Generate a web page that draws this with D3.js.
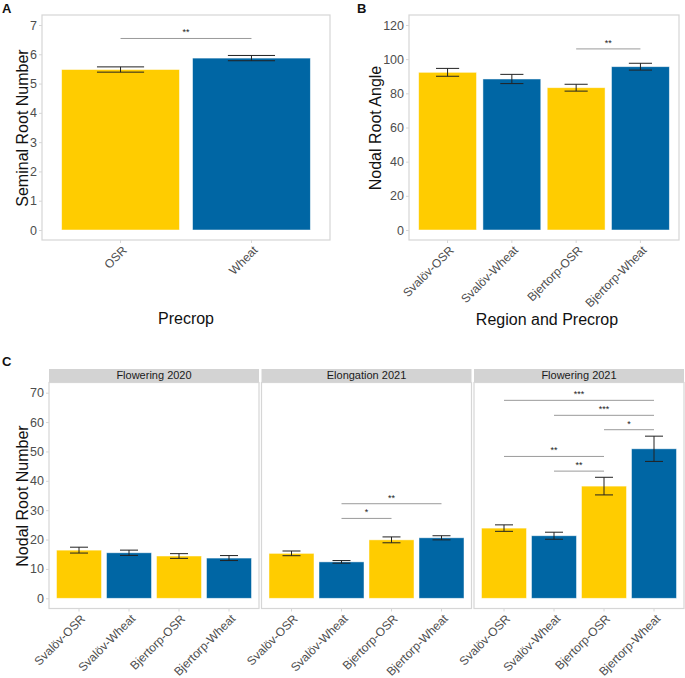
<!DOCTYPE html>
<html>
<head>
<meta charset="utf-8">
<script src="https://cdn.jsdelivr.net/npm/d3@7"></script>
<style>
  body { margin: 0; background: #fff; }
  svg { font-family: "Liberation Sans", Arial, sans-serif; }
</style>
</head>
<body>
<div id="chart"></div>
<script>
// data (mean and standard error)
const precrops = ["OSR", "Wheat"];
const seminalMean = [5.48, 5.87];
const seminalSE = [0.09, 0.09];
const seminalSig = [{ a: "OSR", b: "Wheat", y: 6.54, label: "**" }];

const sites = ["Svalöv-OSR", "Svalöv-Wheat", "Bjertorp-OSR", "Bjertorp-Wheat"];
const angleMean = [92.3, 88.4, 83.3, 95.6];
const angleSE = [2.3, 2.7, 2.0, 2.0];
const angleSig = [{ a: "Bjertorp-OSR", b: "Bjertorp-Wheat", y: 106, label: "**" }];

const stages = ["Flowering 2020", "Elongation 2021", "Flowering 2021"];
const nodalMean = [
  [16.4, 15.5, 14.4, 13.7],
  [15.3, 12.4, 19.9, 20.6],
  [23.9, 21.3, 38.2, 50.9]
];
const nodalSE = [
  [1.0, 0.9, 0.8, 0.85],
  [0.8, 0.45, 1.0, 0.7],
  [1.1, 1.2, 3.0, 4.3]
];
const nodalSig = [
  [],
  [{ a: "Svalöv-Wheat", b: "Bjertorp-OSR", y: 27.2, label: "*" },
   { a: "Svalöv-Wheat", b: "Bjertorp-Wheat", y: 32.2, label: "**" }],
  [{ a: "Svalöv-OSR", b: "Bjertorp-Wheat", y: 67.4, label: "***" },
   { a: "Svalöv-Wheat", b: "Bjertorp-Wheat", y: 62.3, label: "***" },
   { a: "Bjertorp-OSR", b: "Bjertorp-Wheat", y: 57.4, label: "*" },
   { a: "Svalöv-OSR", b: "Bjertorp-OSR", y: 48.3, label: "**" },
   { a: "Svalöv-Wheat", b: "Bjertorp-OSR", y: 43.3, label: "**" }]
];

const yellow = "#FFCC00", blue = "#0066A4";
const tickGrey = "#4d4d4d", frame = "#d6d6d6";

const width = 685, height = 678;
const svg = d3.select("#chart").append("svg")
  .attr("width", width).attr("height", height);

// draws one ggplot-like panel
function panel(opt) {
  const { x0, x1, y0, y1, cats, means, ses, sig, ymax, yticks, yzero, ytop, showY } = opt;
  const x = d3.scaleBand().domain(cats).range([x0, x1])
    .paddingInner(0.1).paddingOuter(0.15);
  const y = d3.scaleLinear().domain([0, ymax]).range([yzero, ytop]);
  const g = svg.append("g");
  const rows = cats.map((c, i) => ({ c, m: means[i], se: ses[i], i }));

  g.append("rect").attr("x", x0).attr("y", y0).attr("width", x1 - x0).attr("height", y1 - y0)
    .attr("fill", "#fff").attr("stroke", frame).attr("stroke-width", 1.2);

  g.selectAll(".bar").data(rows).enter().append("rect")
    .attr("x", d => x(d.c)).attr("width", x.bandwidth())
    .attr("y", d => y(d.m)).attr("height", d => y(0) - y(d.m))
    .attr("fill", d => d.i % 2 ? blue : yellow)
    .attr("stroke", "#fff").attr("stroke-opacity", 0.6).attr("stroke-width", 0.8);

  const cap = x.bandwidth() * 0.2;
  const eb = g.selectAll(".eb").data(rows).enter().append("g")
    .attr("stroke", "#222").attr("stroke-width", 1);
  eb.append("line").attr("x1", d => x(d.c) + x.bandwidth() / 2).attr("x2", d => x(d.c) + x.bandwidth() / 2)
    .attr("y1", d => y(d.m + d.se)).attr("y2", d => y(d.m - d.se));
  eb.append("line").attr("x1", d => x(d.c) + x.bandwidth() / 2 - cap).attr("x2", d => x(d.c) + x.bandwidth() / 2 + cap)
    .attr("y1", d => y(d.m + d.se)).attr("y2", d => y(d.m + d.se));
  eb.append("line").attr("x1", d => x(d.c) + x.bandwidth() / 2 - cap).attr("x2", d => x(d.c) + x.bandwidth() / 2 + cap)
    .attr("y1", d => y(d.m - d.se)).attr("y2", d => y(d.m - d.se));

  sig.forEach(s => {
    const xa = x(s.a) + x.bandwidth() / 2, xb = x(s.b) + x.bandwidth() / 2;
    g.append("line").attr("x1", xa).attr("x2", xb).attr("y1", y(s.y)).attr("y2", y(s.y))
      .attr("stroke", "#9a9a9a").attr("stroke-width", 1);
    g.append("text").attr("x", (xa + xb) / 2).attr("y", y(s.y) - 3)
      .attr("text-anchor", "middle").attr("font-size", 9).attr("fill", "#222").text(s.label);
  });

  if (showY) {
    const ya = g.append("g").attr("transform", `translate(${x0},0)`)
      .call(d3.axisLeft(y).tickValues(yticks).tickFormat(d3.format("d")).tickSize(3).tickPadding(2));
    ya.select(".domain").remove();
    ya.selectAll("line").attr("stroke", frame);
    ya.selectAll("text").attr("fill", tickGrey).attr("font-size", 12.5).attr("font-family", null);
  }

  const xa = g.append("g").attr("transform", `translate(0,${y1})`)
    .call(d3.axisBottom(x).tickSize(3).tickFormat(""));
  xa.select(".domain").remove();
  xa.selectAll("line").attr("stroke", frame);
  g.selectAll(".xl").data(cats).enter().append("text")
    .attr("transform", d => `translate(${x(d) + x.bandwidth() / 2 + 7},${y1 + 11}) rotate(-45)`)
    .attr("text-anchor", "end")
    .attr("font-size", 12).attr("fill", tickGrey).text(d => d);
}

function title(txt, xx, yy, rot) {
  svg.append("text").attr("transform", `translate(${xx},${yy})` + (rot ? " rotate(-90)" : ""))
    .attr("text-anchor", "middle").attr("dominant-baseline", "middle")
    .attr("font-size", 16).attr("fill", "#111").text(txt);
}
function tag(txt, xx, yy) {
  svg.append("text").attr("x", xx).attr("y", yy).attr("font-size", 13)
    .attr("font-weight", "bold").attr("fill", "#111").text(txt);
}

// A
panel({ x0: 42, x1: 330, y0: 15, y1: 240, cats: precrops, means: seminalMean, ses: seminalSE,
  sig: seminalSig, ymax: 7, yticks: d3.range(0, 8), yzero: 230, ytop: 25, showY: true });
title("Seminal Root Number", 24, 128, true);
title("Precrop", 186, 320, false);
tag("A", 2, 13);

// B
panel({ x0: 409, x1: 679, y0: 15, y1: 240, cats: sites, means: angleMean, ses: angleSE,
  sig: angleSig, ymax: 120, yticks: d3.range(0, 121, 20), yzero: 230, ytop: 25, showY: true });
title("Nodal Root Angle", 377, 128, true);
title("Region and Precrop", 547, 321, false);
tag("B", 357, 13);

// C
const facetX = [[49, 259], [261.5, 471.5], [474, 684]];
stages.forEach((st, k) => {
  const [a, b] = facetX[k];
  svg.append("rect").attr("x", a).attr("y", 369).attr("width", b - a).attr("height", 13.5)
    .attr("fill", "#d3d3d3");
  svg.append("text").attr("x", (a + b) / 2).attr("y", 376).attr("dominant-baseline", "middle")
    .attr("text-anchor", "middle").attr("font-size", 11).attr("fill", "#1a1a1a").text(st);
  panel({ x0: a, x1: b, y0: 382.5, y1: 608.5, cats: sites, means: nodalMean[k], ses: nodalSE[k],
    sig: nodalSig[k], ymax: 70, yticks: d3.range(0, 71, 10), yzero: 598.3, ytop: 392.7,
    showY: k === 0 });
});
title("Nodal Root Number", 24, 496, true);
tag("C", 2, 366);
</script>
</body>
</html>
